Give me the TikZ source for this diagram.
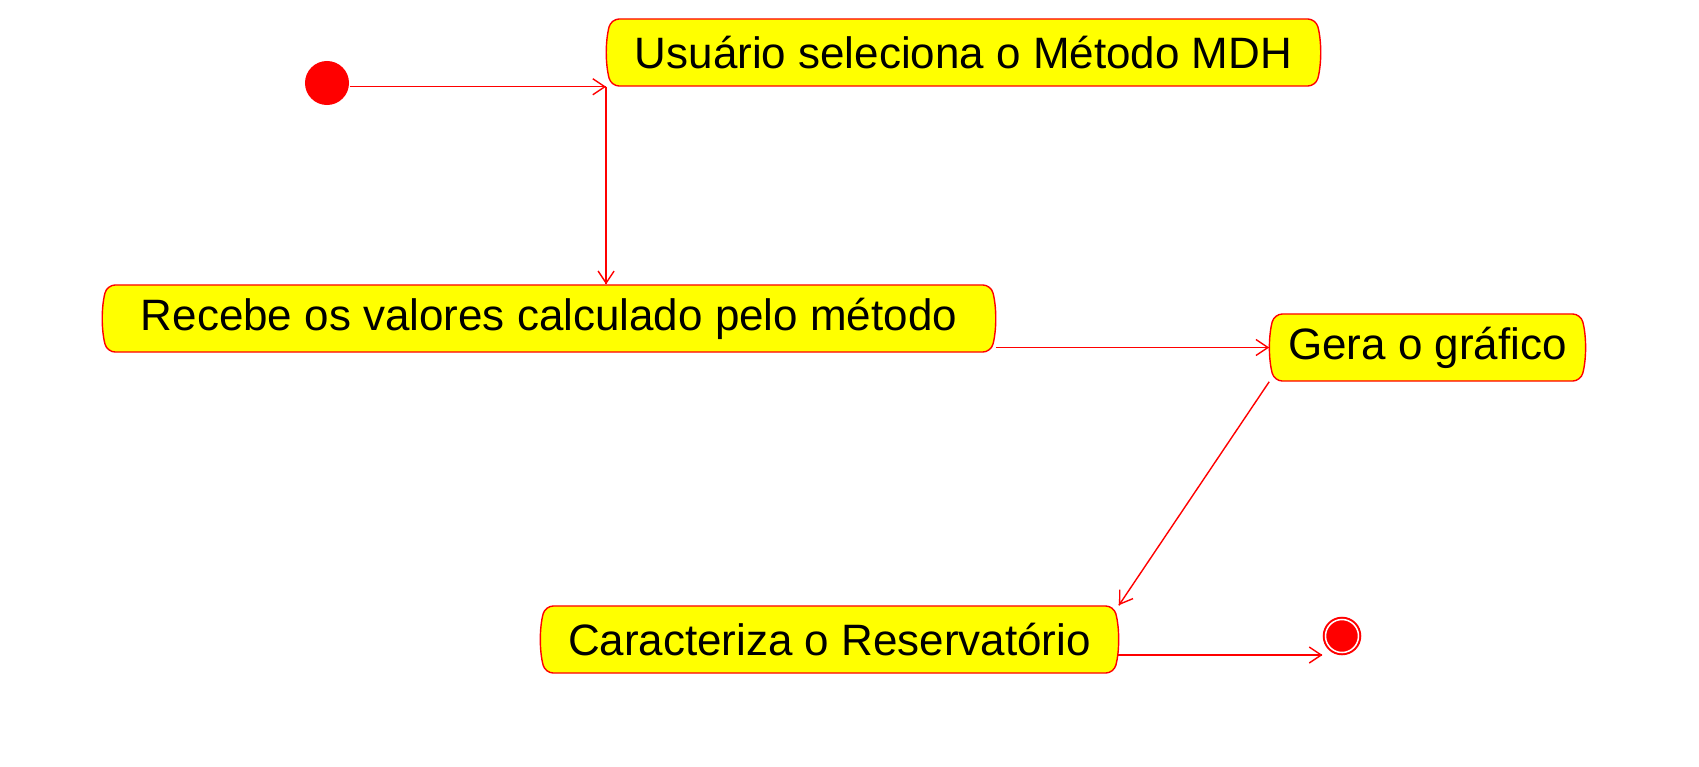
\documentclass[tikz,border=0pt]{standalone}
\usepackage{fontspec}
\setmainfont{Liberation Sans}
\usepackage{tikz}
\usetikzlibrary{arrows.meta}
\usetikzlibrary{decorations.markings}
\usetikzlibrary{shapes.misc}
\tikzset{->/.style = {decoration={markings,
                                  mark=at position 1 with {\arrow{Straight Barb[length=0.12cm, width=0.16cm]}}},
                      postaction={decorate}}}
\tikzset{activity/.style = {rounded rectangle, rounded rectangle arc length=30, rounded corners=0.08cm,
                            draw=mred, fill=myellow, minimum height=0.67cm, inner sep=0pt,
                            font=\fontsize{12.5}{15}\selectfont}}
\definecolor{mred}{rgb}{1, 0, 0}
\definecolor{myellow}{rgb}{1, 1, 0}

\begin{document}
\begin{tikzpicture}[x=0.01cm, y=-0.01cm, line width=0.4pt]
    \useasboundingbox (0, 0) rectangle (1699, 766);
    \node [circle, fill=mred, minimum size=0.44cm, inner sep=0pt] (start) at (327, 83) {};
    \node [activity, minimum width=7.13cm] (selec) at (963.5, 52.5) {Usuário seleciona o Método MDH};
    \node [activity, minimum width=8.92cm] (recebe) at (549, 318.5) {Recebe os valores calculado pelo método};
    \node [activity, minimum width=3.15cm] (grafico) at (1427.5, 347.5) {Gera o gráfico};
    \node [activity, minimum width=5.77cm] (carac) at (829.5, 639.5) {Caracteriza o Reservatório};
    \node [circle, draw=mred, double=white, double distance=0.015cm, line width=0.02cm,
           fill=mred, minimum size=0.33cm, inner sep=0pt, outer sep=0.03cm] (fim) at (1342, 636) {};
    \coordinate (saida) at (1118, 655); % lower exit of carac

    \draw [mred, ->] (start.east |- selec.south) -- (selec.west |- selec.south);
    \draw [mred, ->] (selec.west |- selec.south) -- (selec.west |- recebe.north);
    \draw [mred, ->] (recebe.east |- grafico.west) -- (grafico.west);
    \draw [mred, ->] (grafico.west |- grafico.south) -- (carac.east |- carac.north);
    \draw [mred, ->] (saida) -- (saida -| fim.west);
  \end{tikzpicture}
\end{document}
